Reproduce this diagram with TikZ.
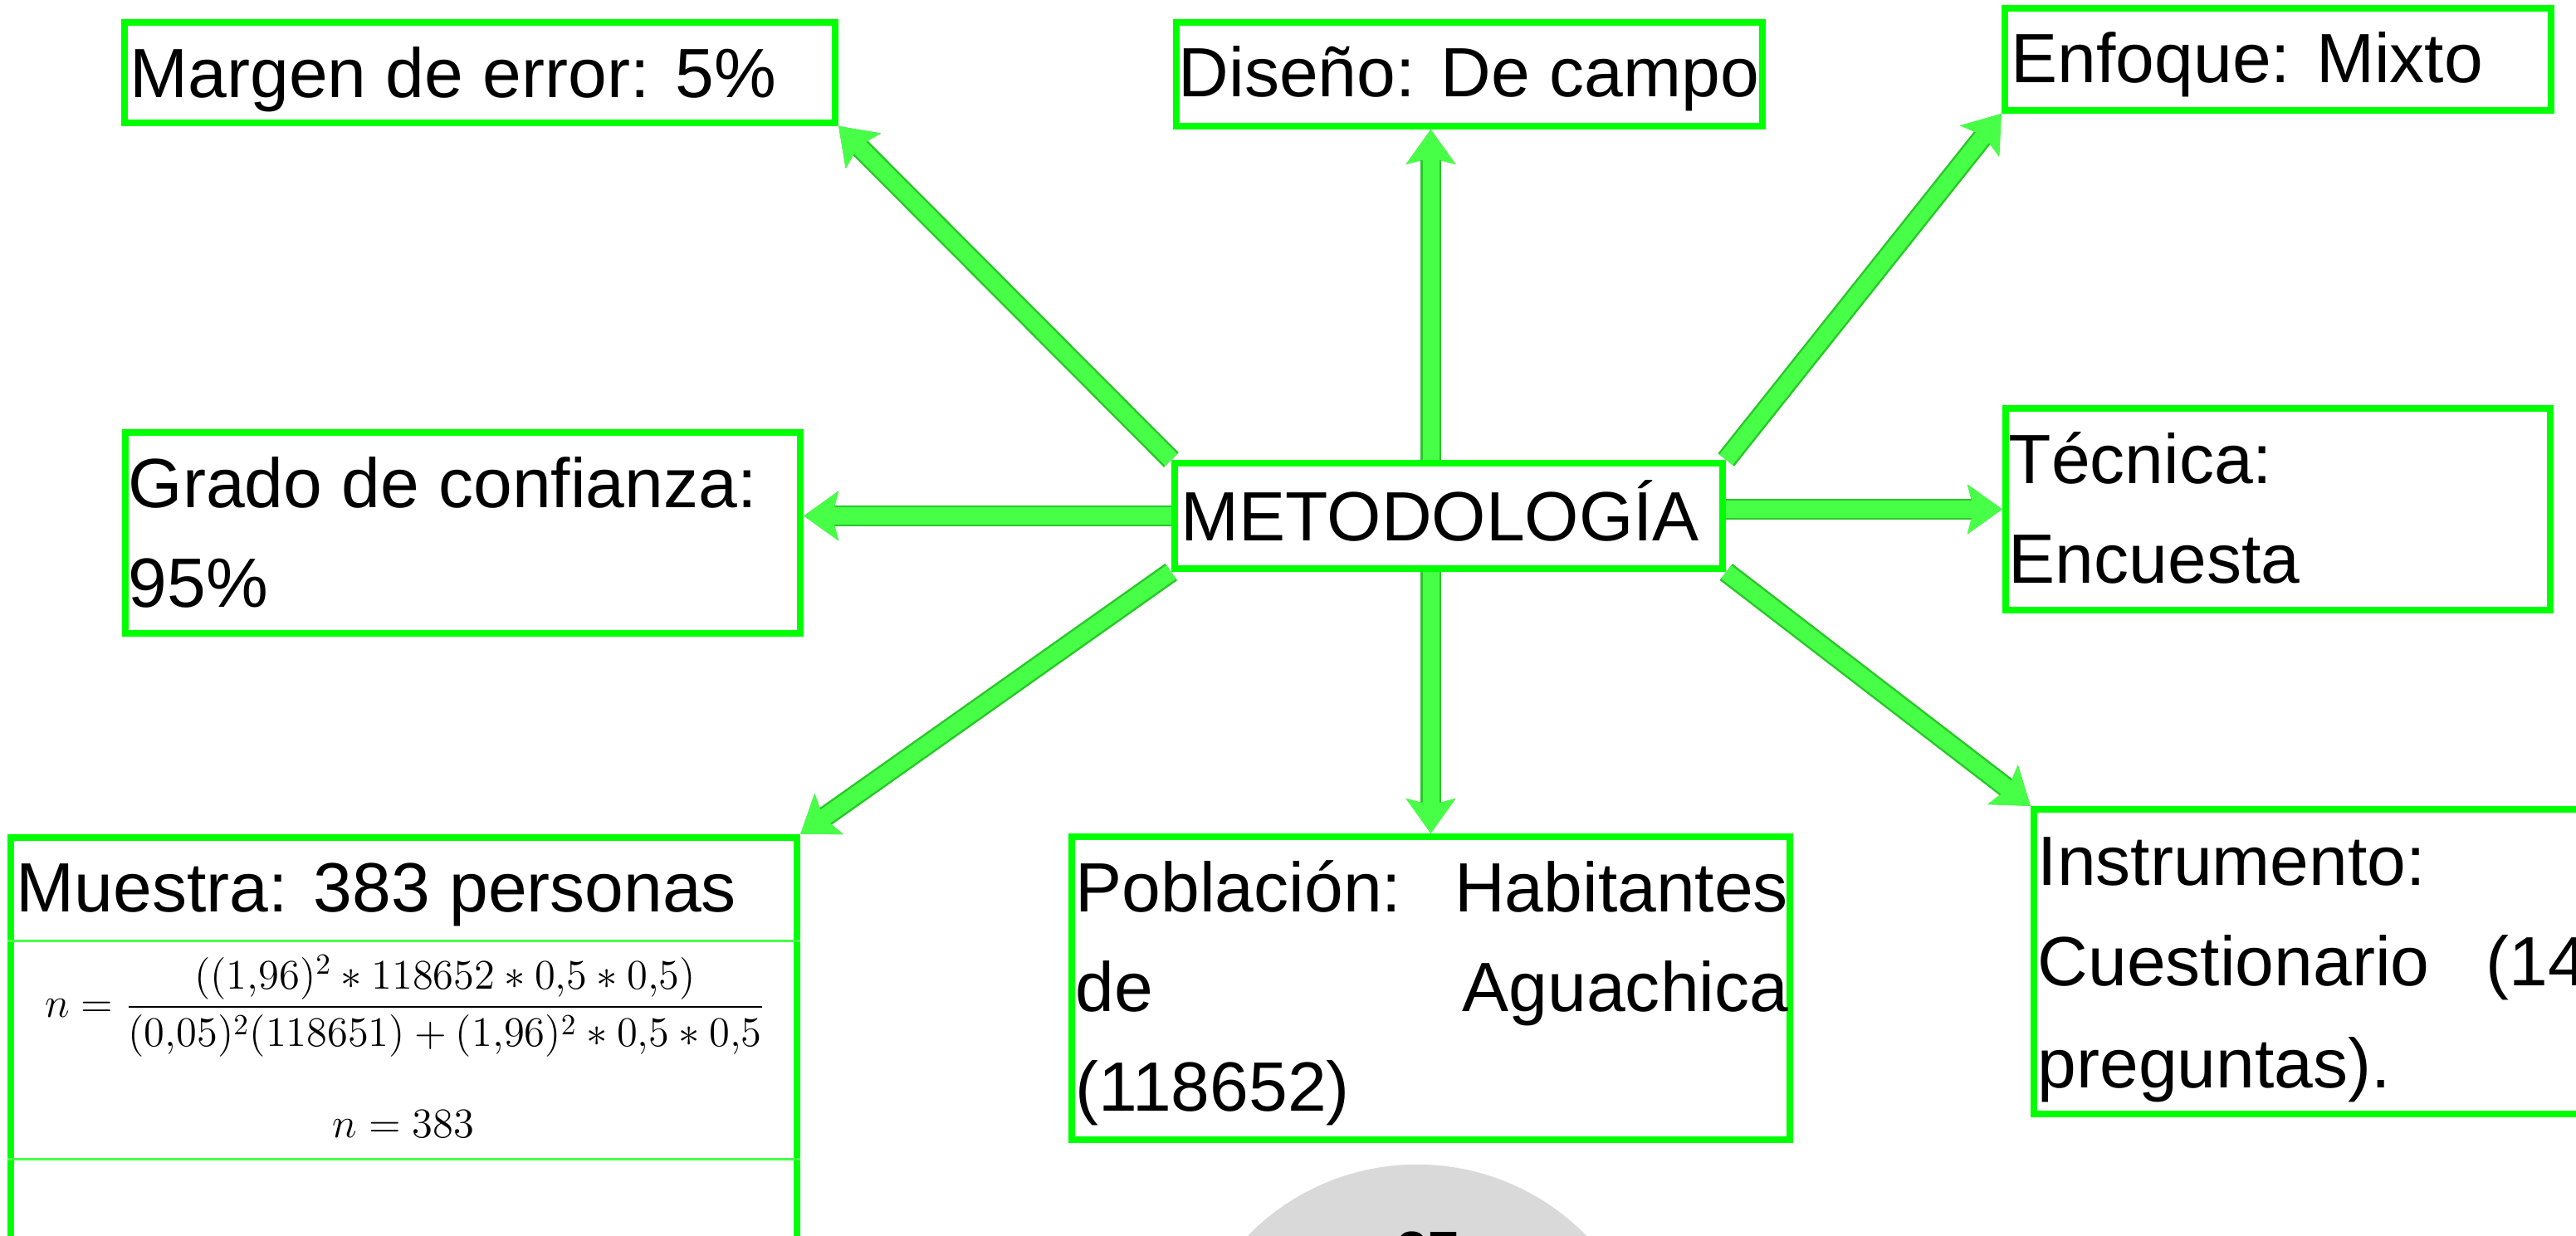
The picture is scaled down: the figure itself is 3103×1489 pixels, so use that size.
\documentclass[tikz,border=0pt]{standalone}
\usepackage{amsmath}
\usepackage[no-math]{fontspec}
\setmainfont{Liberation Sans}
\usetikzlibrary{arrows.meta}

\definecolor{verde}{RGB}{0,255,0}
\definecolor{verdeclaro}{RGB}{70,255,70}
\definecolor{flechaverde}{RGB}{72,255,72}
\definecolor{flechaborde}{RGB}{40,200,40}
\definecolor{gris}{RGB}{217,217,217}

\begin{document}
\begin{tikzpicture}[x=0.01cm,y=-0.01cm,
  caja/.style={draw=verde,fill=white,line width=0.08cm,inner sep=0pt},
  texto/.style={anchor=base west,inner sep=0pt,font=\fontsize{23.9}{28}\selectfont},
  flecha/.style={draw,-{Stealth[length=0.42cm,width=0.6cm,inset=0.08cm,line width=0pt]},color=flechaverde,line width=0.2cm,
    preaction={draw=flechaborde,line width=0.25cm}},
  linea/.style={draw=verdeclaro,line width=0.03cm}]

  \path[use as bounding box] (0,0) rectangle (3103,1489);
  \clip (0,0) rectangle (3103,1489);

  % numero de pagina
  \node[circle,fill=gris,minimum size=5.7cm,inner sep=0pt] (pagina) at (1707,1688) {};
  \node[anchor=base,inner sep=0pt,font=\bfseries\fontsize{19}{22}\selectfont] (npag) at (1720,1530) {27};

  % cajas
  \node[caja,minimum width=8.56cm,minimum height=1.21cm] (margen) at (578,87.5) {};
  \node[caja,minimum width=7.06cm,minimum height=1.25cm] (diseno) at (1770,89.5) {};
  \node[caja,minimum width=6.58cm,minimum height=1.23cm] (enfoque) at (2744,71.5) {};
  \node[caja,minimum width=8.13cm,minimum height=2.42cm] (grado) at (557.5,642) {};
  \node[caja,minimum width=6.60cm,minimum height=1.27cm] (meto) at (1745,621.5) {};
  \node[caja,minimum width=6.56cm,minimum height=2.43cm] (tecnica) at (2744,613.5) {};
  \node[caja,minimum width=9.47cm,minimum height=5.51cm] (muestra) at (486.5,1284.5) {};
  \node[caja,minimum width=8.65cm,minimum height=3.65cm] (pob) at (1723.5,1190.5) {};
  \node[caja,minimum width=8.00cm,minimum height=3.67cm] (instr) at (2850,1158.5) {};

  % textos
  \node[texto] (tmargen) at (156,118) {Margen de error: 5\%};
  \node[texto] (tdiseno) at (1419,117) {Diseño: De campo};
  \node[texto] (tenfoque) at (2422,100) {Enfoque: Mixto};
  \node[texto] (tgrado1) at (154,612) {Grado de confianza:};
  \node[texto] (tgrado2) at (154,732) {95\%};
  \node[texto] (tmeto) at (1422,652) {METODOLOGÍA};
  \node[texto] (ttecnica1) at (2419,583) {Técnica:};
  \node[texto] (ttecnica2) at (2419,703) {Encuesta};
  \node[texto] (tmuestra) at (19,1098) {Muestra: 383 personas};
  \node[texto] (tpob1) at (1295,1098) {\hbox to 8.58cm{Población:\hfill Habitantes}};
  \node[texto] (tpob2) at (1295,1218) {\hbox to 8.58cm{de\hfill Aguachica}};
  \node[texto] (tpob3) at (1295,1338) {(118652)};
  \node[texto] (tinst1) at (2454,1067) {Instrumento:};
  \node[texto] (tinst2) at (2454,1187) {\hbox to 6.61cm{Cuestionario\hfill(14}};
  \node[texto] (tinst3) at (2454,1310) {preguntas).};

  % tabla de la muestra
  \draw[linea] (muestra.west |- 0,1133) -- (muestra.east |- 0,1133);
  \draw[linea] (muestra.west |- 0,1396) -- (muestra.east |- 0,1396);
  \node[inner sep=0pt,font=\fontsize{14.4}{17}\selectfont] (formula) at (488,1212)
    {$n=\dfrac{((1{,}96)^2\ast 118652\ast 0{,}5\ast 0{,}5)}{(0{,}05)^2(118651)+(1{,}96)^2\ast 0{,}5\ast 0{,}5}$};
  \node[anchor=base,inner sep=0pt,font=\fontsize{14.4}{17}\selectfont] (nres) at (486,1370) {$n=383$};

  \path[every edge/.style={flecha}]
  (meto.north west) edge (margen.south east)
  (pob.north |- meto.north) edge (pob.north |- diseno.south)
  (meto.north east) edge (enfoque.south west)
  (meto.west) edge (meto.west -| grado.east)
  (meto.east |- tecnica.west) edge (tecnica.west)
  (meto.south west) edge (muestra.north east)
  (pob.north |- meto.south) edge (pob.north)
  (meto.south east) edge (instr.north west);

\end{tikzpicture}
\end{document}
